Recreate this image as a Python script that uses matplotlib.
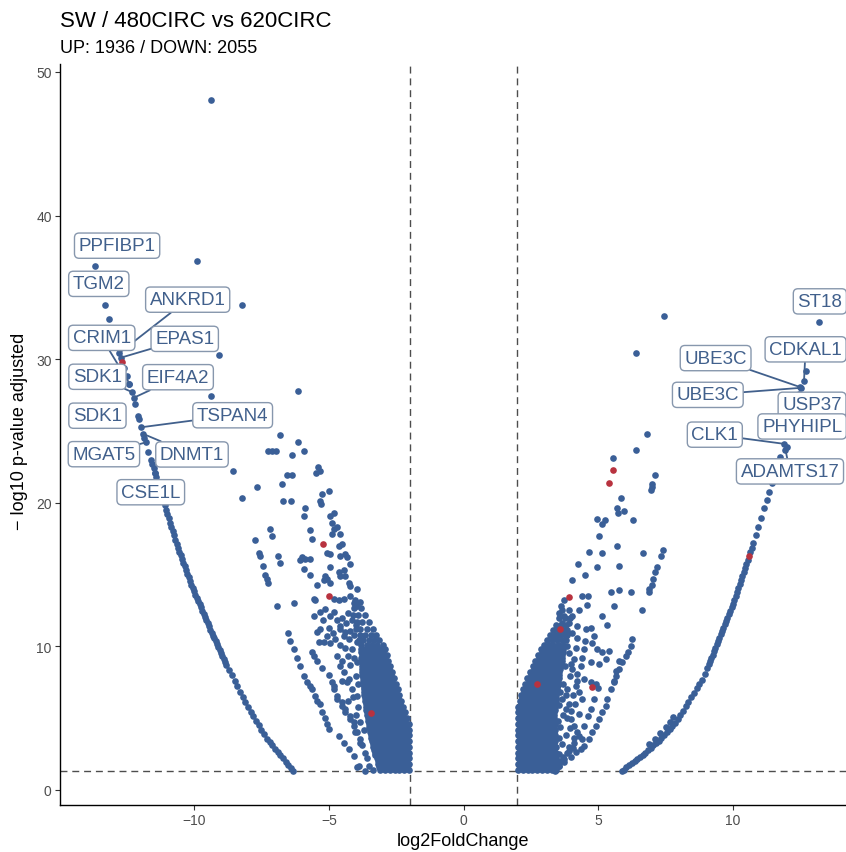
import matplotlib
matplotlib.use("Agg")
import matplotlib.pyplot as plt

plt.rcParams['font.family'] = ['Liberation Sans', 'DejaVu Sans']

# ---------------- data ----------------
title = "SW / 480CIRC vs 620CIRC"
subtitle = "UP: 1936 / DOWN: 2055"
lfc_cut = 2.0
padj_cut = 1.30          # -log10(0.05)

# the two long "arcs" of genes at the outer edges
left_arc = [(-6.32, 1.32), (-6.4, 1.5), (-6.5, 1.73), (-6.6, 1.96), (-6.7, 2.19), (-6.8, 2.42),
            (-6.9, 2.65), (-7.0, 2.88), (-7.1, 3.11), (-7.2, 3.34), (-7.3, 3.58), (-7.4, 3.89),
            (-7.5, 4.2), (-7.6, 4.51), (-7.7, 4.82), (-7.8, 5.13), (-7.9, 5.45), (-8.0, 5.76),
            (-8.1, 6.11), (-8.2, 6.48), (-8.3, 6.85), (-8.4, 7.23), (-8.5, 7.6), (-8.6, 7.97),
            (-8.7, 8.34), (-8.8, 8.72), (-8.85, 8.92), (-8.9, 9.13), (-8.95, 9.33), (-9.0, 9.53),
            (-9.05, 9.74), (-9.1, 9.94), (-9.15, 10.14), (-9.2, 10.35), (-9.25, 10.55), (-9.3, 10.75),
            (-9.35, 10.95), (-9.4, 11.16), (-9.45, 11.38), (-9.5, 11.6), (-9.55, 11.82), (-9.6, 12.04),
            (-9.65, 12.27), (-9.7, 12.49), (-9.75, 12.71), (-9.8, 12.93), (-9.85, 13.16), (-9.9, 13.38),
            (-9.95, 13.6), (-10.0, 13.82), (-10.05, 14.05), (-10.1, 14.3), (-10.15, 14.55), (-10.2, 14.81),
            (-10.25, 15.06), (-10.3, 15.32), (-10.35, 15.57), (-10.4, 15.83), (-10.45, 16.08), (-10.5, 16.34),
            (-10.55, 16.6), (-10.6, 16.85), (-10.65, 17.12), (-10.7, 17.42), (-10.75, 17.72), (-10.8, 18.02),
            (-10.85, 18.32), (-10.9, 18.62), (-10.95, 18.92), (-11.0, 19.22), (-11.05, 19.52), (-11.1, 19.83),
            (-11.15, 20.16), (-11.2, 20.48), (-11.25, 20.81), (-11.3, 21.13), (-11.35, 21.46), (-11.4, 21.78),
            (-11.45, 22.1), (-11.5, 22.39), (-11.55, 22.68), (-11.6, 22.97), (-11.7, 23.5), (-11.85, 24.5),
            (-12.05, 25.85), (-12.2, 26.9), (-12.4, 28.3), (-12.5, 28.85), (-12.6, 29.4), (-12.85, 30.95),
            (-13.0, 31.9), (-13.15, 32.8), (-13.5, 35.2)]

right_arc = [(5.88, 1.32), (5.95, 1.42), (6.05, 1.57), (6.15, 1.71), (6.25, 1.86), (6.35, 2.0),
             (6.45, 2.15), (6.55, 2.3), (6.65, 2.44), (6.75, 2.6), (6.85, 2.77), (6.95, 2.93),
             (7.05, 3.1), (7.15, 3.27), (7.25, 3.43), (7.35, 3.61), (7.45, 3.82), (7.55, 4.02),
             (7.65, 4.23), (7.75, 4.43), (7.85, 4.64), (7.95, 4.92), (8.05, 5.22), (8.15, 5.53),
             (8.25, 5.84), (8.35, 6.14), (8.45, 6.45), (8.55, 6.76), (8.65, 7.07), (8.75, 7.38),
             (8.85, 7.68), (8.95, 8.04), (9.05, 8.5), (9.1, 8.74), (9.15, 8.97), (9.2, 9.2),
             (9.25, 9.43), (9.3, 9.67), (9.35, 9.9), (9.4, 10.13), (9.45, 10.36), (9.5, 10.6),
             (9.55, 10.83), (9.6, 11.06), (9.65, 11.3), (9.7, 11.53), (9.75, 11.76), (9.8, 12.0),
             (9.85, 12.23), (9.9, 12.46), (9.95, 12.71), (10.0, 12.98), (10.05, 13.26), (10.1, 13.53),
             (10.15, 13.81), (10.2, 14.09), (10.25, 14.36), (10.3, 14.64), (10.35, 14.92), (10.4, 15.19),
             (10.45, 15.47), (10.5, 15.75), (10.55, 16.02), (10.65, 16.59), (10.7, 16.88), (10.75, 17.16),
             (10.85, 17.74), (10.95, 18.33), (11.05, 18.96), (11.15, 19.6), (11.25, 20.18), (11.35, 20.75),
             (11.45, 21.35), (11.6, 22.2), (11.75, 23.2), (12.05, 25.0), (12.2, 26.0), (12.35, 26.95),
             (12.7, 29.2), (12.9, 30.6),
             # short parallel branch near the bottom
             (6.9, 3.2), (7.1, 3.55), (7.3, 3.95), (7.5, 4.35), (7.65, 4.7), (7.78, 5.05)]

# scattered genes (down-regulated side)
left_scatter = [(-9.37, 48.05), (-9.89, 36.8), (-8.22, 33.8), (-9.07, 30.3), (-9.37, 27.4), (-6.13, 27.8),
                (-6.83, 24.7), (-6.15, 24.2), (-7.27, 23.6), (-7.11, 23.6), (-6.95, 23.6), (-6.37, 23.3),
                (-5.94, 23.6), (-8.54, 22.2), (-5.42, 22.5), (-5.34, 22.2), (-5.46, 22.1), (-6.55, 21.9),
                (-6.37, 21.9), (-6.74, 21.3), (-7.67, 21.1), (-8.23, 20.3), (-6.7, 20.1), (-6.41, 20.1),
                (-5.25, 20.6), (-5.0, 20.8), (-5.34, 20.1), (-5.29, 19.9), (-5.87, 19.6), (-5.94, 19.1),
                (-4.94, 19.1), (-4.82, 19.3), (-4.88, 18.6), (-7.17, 18.2), (-7.11, 17.7), (-5.69, 18.1),
                (-5.62, 17.5), (-4.82, 18.2), (-4.7, 18.3), (-4.88, 17.8), (-4.57, 17.8), (-7.73, 17.4),
                (-4.64, 17.0), (-4.51, 17.1), (-7.61, 16.5), (-7.55, 16.3), (-5.07, 16.5), (-4.94, 16.4),
                (-4.57, 16.3), (-4.39, 16.4), (-4.32, 16.2), (-6.87, 16.3), (-6.8, 15.8), (-6.0, 16.2),
                (-5.87, 16.1), (-5.69, 16.1), (-6.06, 16.0), (-4.2, 15.7), (-7.45, 15.6), (-4.94, 15.5),
                (-4.64, 15.2), (-4.45, 15.3), (-4.57, 14.9), (-4.39, 14.9), (-5.94, 15.4), (-5.69, 15.0),
                (-7.36, 15.0), (-7.3, 14.7), (-7.24, 14.4), (-5.13, 14.9), (-5.07, 14.7), (-5.19, 14.6),
                (-4.94, 14.4), (-4.26, 14.4), (-4.2, 14.2), (-3.95, 14.0), (-5.44, 14.3), (-5.56, 13.3),
                (-4.82, 13.3), (-4.64, 13.2), (-4.45, 13.3), (-4.2, 13.5), (-4.01, 13.2), (-3.83, 13.1),
                (-4.08, 13.0), (-3.95, 12.8), (-6.93, 12.8), (-6.31, 13.0), (-5.5, 13.2),
                (-5.56, 12.1), (-5.32, 12.4), (-5.13, 12.6), (-4.94, 12.1), (-5.44, 11.0), (-5.32, 11.2),
                (-5.07, 10.7), (-5.38, 10.3), (-4.82, 12.4), (-4.7, 11.8), (-4.57, 11.2), (-4.45, 10.7),
                (-4.76, 10.5), (-4.57, 11.4), (-4.39, 11.0), (-4.26, 10.5), (-5.19, 10.3), (-4.94, 10.2),
                (-4.7, 9.35),
                (-6.53, 10.9), (-6.43, 10.4), (-6.31, 9.8), (-6.18, 9.2), (-6.06, 8.66), (-5.94, 7.96),
                (-5.8, 7.5), (-5.69, 7.26), (-5.62, 7.03), (-5.5, 6.57), (-5.44, 6.2), (-5.32, 5.99),
                (-5.25, 5.4), (-5.13, 5.0), (-5.05, 4.6), (-5.0, 4.25),
                (-5.62, 9.6), (-5.56, 9.35), (-5.44, 8.95), (-5.25, 8.5), (-5.0, 8.0), (-4.9, 7.5),
                (-4.82, 7.26), (-4.57, 8.66), (-4.45, 8.18), (-4.32, 7.5), (-4.14, 7.0), (-3.95, 6.57),
                (-4.82, 7.0), (-4.7, 6.57), (-4.51, 6.1), (-4.39, 5.64), (-4.2, 5.17), (-4.08, 4.7),
                (-4.01, 4.0), (-3.83, 3.3), (-3.64, 2.6), (-3.95, 1.58), (-4.7, 6.34), (-4.51, 5.87),
                (-4.39, 5.41), (-4.2, 4.94), (-4.08, 4.47), (-3.95, 4.0), (-3.83, 3.55),
                (-4.64, 3.78), (-4.45, 3.3), (-4.26, 2.85), (-4.08, 2.39), (-3.89, 1.69), (-3.64, 1.3),
                (-4.3, 12.3), (-4.5, 12.0), (-4.15, 11.8), (-4.35, 11.6), (-4.0, 11.5), (-4.2, 11.1),
                (-4.05, 10.8), (-4.6, 10.1), (-4.4, 9.9), (-4.15, 9.8), (-3.95, 10.3), (-4.3, 9.3),
                (-4.05, 9.2), (-4.5, 9.0), (-4.2, 8.7), (-3.95, 8.9), (-4.0, 7.9), (-4.25, 7.7),
                (-4.5, 7.6), (-3.9, 7.4), (-4.1, 6.5), (-4.3, 6.2), (-3.9, 5.8), (-4.0, 5.2),
                (-3.85, 4.7), (-3.7, 4.2), (-3.75, 3.1), (-3.6, 2.2), (-3.5, 1.7), (-3.35, 1.4),
                (-5.2, 11.8), (-5.0, 11.3), (-4.85, 10.9)]

# scattered genes (up-regulated side)
right_scatter = [(7.45, 33.0), (6.39, 30.4), (6.8, 24.8), (6.41, 23.7), (5.55, 23.1), (7.11, 21.9),
                 (7.01, 21.3), (6.98, 21.1), (6.95, 20.9), (5.85, 20.3), (5.71, 19.6), (5.75, 19.3),
                 (5.94, 19.4), (4.94, 18.9), (5.25, 18.8), (5.16, 18.5), (6.31, 18.8), (5.03, 17.7),
                 (5.71, 17.0), (4.66, 16.6), (5.16, 16.5), (6.67, 16.5), (7.41, 16.7), (7.32, 16.3),
                 (4.25, 15.7), (4.97, 15.5), (5.78, 15.6), (7.2, 15.5), (7.11, 15.2), (7.04, 14.7),
                 (6.99, 14.3), (4.51, 15.0), (4.04, 14.6), (6.89, 14.0), (6.87, 13.8), (3.73, 13.2),
                 (3.61, 12.8), (4.41, 13.5), (4.63, 13.5), (5.46, 13.8), (5.78, 13.9), (6.23, 13.8),
                 (4.6, 12.9), (5.59, 12.8), (3.54, 12.3), (3.73, 12.1), (4.04, 12.1), (5.16, 12.1),
                 (5.34, 11.5), (3.42, 10.7), (3.79, 11.0), (4.04, 10.9), (4.23, 10.6), (4.54, 11.2),
                 (4.72, 11.3), (4.84, 10.7), (3.54, 10.0), (3.85, 10.0), (4.16, 9.9), (4.47, 9.8),
                 (4.78, 10.2), (4.97, 9.8), (5.16, 9.6), (5.4, 9.7), (4.1, 9.1), (4.41, 9.2),
                 (4.72, 8.9), (5.03, 8.8), (5.28, 9.1), (5.78, 9.0), (5.65, 8.3), (5.59, 7.6),
                 (4.04, 8.4), (4.23, 8.1), (4.47, 7.7), (4.72, 7.5), (4.91, 7.4), (4.16, 7.25),
                 (4.29, 6.8), (4.41, 6.34), (6.64, 12.5),
                 (6.27, 10.5), (6.21, 10.0), (6.1, 9.6), (6.02, 9.35), (5.9, 8.9), (5.78, 8.4),
                 (5.65, 7.96), (5.59, 7.5), (5.46, 7.03), (5.34, 6.34), (5.28, 5.87), (5.16, 5.41),
                 (5.03, 4.94), (4.91, 4.47), (4.78, 4.0), (4.66, 3.55), (4.47, 3.09), (4.35, 2.85),
                 (4.16, 2.62), (3.98, 2.27), (3.73, 1.92), (3.54, 1.69),
                 (4.98, 7.07), (4.86, 6.34), (4.73, 5.64), (4.61, 5.17), (4.48, 4.47), (4.3, 3.78),
                 (4.11, 3.3), (3.93, 2.74), (3.74, 2.16), (3.55, 1.69), (3.4, 1.34),
                 (3.67, 6.34), (3.79, 5.64), (3.98, 4.94), (4.1, 4.47), (4.23, 4.0), (4.41, 3.55),
                 (3.5, 8.0), (3.7, 7.4), (3.85, 7.0), (3.6, 6.8), (3.9, 6.0), (4.0, 5.5), (3.7, 5.2),
                 (3.6, 4.4), (3.8, 3.8), (3.65, 3.2), (3.9, 3.0), (3.55, 2.5), (3.7, 2.3),
                 (3.9, 9.5), (4.0, 8.8), (3.75, 8.6), (3.95, 7.9), (4.2, 7.6), (3.8, 6.6),
                 (4.15, 6.0), (4.05, 6.6), (3.55, 5.9), (3.85, 5.0), (4.3, 5.3), (3.5, 4.8),
                 (3.95, 4.3), (3.55, 3.6), (4.1, 3.6), (3.85, 2.6), (4.05, 2.9), (3.6, 2.0),
                 (3.45, 6.3), (3.5, 7.3), (3.65, 9.0), (3.9, 11.6), (4.3, 12.5), (4.2, 11.4),
                 (3.65, 11.6), (4.5, 10.4), (4.35, 8.6)]

# crowded rows just outside the fold-change cut (one list of x per row)
left_dense_y = [1.4, 1.6, 1.8, 2.0, 2.2, 2.4, 2.6, 2.8, 3.0, 3.2, 3.4, 3.6, 3.8, 4.0, 4.2, 4.4,
                4.6, 4.8, 5.0, 5.2, 5.4, 5.6, 5.8, 6.0, 6.2, 6.4, 6.6, 6.8, 7.0, 7.2, 7.4, 7.6,
                7.8, 8.0, 8.2, 8.4, 8.6, 8.8, 9.0, 9.2, 9.4, 9.6, 9.8, 10.1, 10.45, 10.8, 11.2,
                11.7, 12.2, 12.7]
left_dense_x = [[-2.02, -2.2, -2.38, -2.56, -2.74, -2.92, -3.1],
                [-2.11, -2.29, -2.47, -2.65, -2.83, -3.01, -3.13],
                [-2.02, -2.2, -2.38, -2.56, -2.74, -2.92, -3.1, -3.16],
                [-2.11, -2.29, -2.47, -2.65, -2.83, -3.01, -3.19],
                [-2.02, -2.2, -2.38, -2.56, -2.74, -2.92, -3.1, -3.22],
                [-2.11, -2.29, -2.47, -2.65, -2.83, -3.01, -3.19, -3.27],
                [-2.02, -2.2, -2.38, -2.56, -2.74, -2.92, -3.1, -3.28],
                [-2.11, -2.29, -2.47, -2.65, -2.83, -3.01, -3.19, -3.32],
                [-2.02, -2.2, -2.38, -2.56, -2.74, -2.92, -3.1, -3.28, -3.35],
                [-2.11, -2.29, -2.47, -2.65, -2.83, -3.01, -3.19, -3.37],
                [-2.02, -2.2, -2.38, -2.56, -2.74, -2.92, -3.1, -3.28, -3.4],
                [-2.11, -2.29, -2.47, -2.65, -2.83, -3.01, -3.19, -3.37, -3.43],
                [-2.02, -2.2, -2.38, -2.56, -2.74, -2.92, -3.1, -3.28, -3.45],
                [-2.11, -2.29, -2.47, -2.65, -2.83, -3.01, -3.19, -3.37, -3.47],
                [-2.02, -2.2, -2.38, -2.56, -2.74, -2.92, -3.1, -3.28, -3.46],
                [-2.11, -2.29, -2.47, -2.65, -2.83, -3.01, -3.19, -3.37, -3.5],
                [-2.04, -2.22, -2.4, -2.58, -2.76, -2.94, -3.12, -3.3, -3.48, -3.52],
                [-2.16, -2.34, -2.52, -2.7, -2.88, -3.06, -3.24, -3.42, -3.54],
                [-2.1, -2.28, -2.46, -2.64, -2.82, -3.0, -3.18, -3.36, -3.54],
                [-2.23, -2.41, -2.59, -2.77, -2.95, -3.13, -3.31, -3.49, -3.57],
                [-2.17, -2.35, -2.53, -2.71, -2.89, -3.07, -3.25, -3.43, -3.59],
                [-2.3, -2.48, -2.66, -2.84, -3.02, -3.2, -3.38, -3.56, -3.61],
                [-2.24, -2.42, -2.6, -2.78, -2.96, -3.14, -3.32, -3.5, -3.62],
                [-2.37, -2.55, -2.73, -2.91, -3.09, -3.27, -3.45, -3.63],
                [-2.31, -2.49, -2.67, -2.85, -3.03, -3.21, -3.39, -3.57, -3.65],
                [-2.43, -2.61, -2.79, -2.97, -3.15, -3.33, -3.51, -3.66],
                [-2.38, -2.56, -2.74, -2.92, -3.1, -3.28, -3.46, -3.64, -3.68],
                [-2.5, -2.68, -2.86, -3.04, -3.22, -3.4, -3.58, -3.69],
                [-2.45, -2.63, -2.81, -2.99, -3.17, -3.35, -3.53, -3.7],
                [-2.57, -2.75, -2.93, -3.11, -3.29, -3.47, -3.65, -3.71],
                [-2.51, -2.69, -2.87, -3.05, -3.23, -3.41, -3.59, -3.72],
                [-2.64, -2.82, -3.0, -3.18, -3.36, -3.54, -3.72],
                [-2.58, -2.76, -2.94, -3.12, -3.3, -3.48, -3.66, -3.74],
                [-2.71, -2.89, -3.07, -3.25, -3.43, -3.61, -3.75],
                [-2.65, -2.83, -3.01, -3.19, -3.37, -3.55, -3.73, -3.76],
                [-2.77, -2.95, -3.13, -3.31, -3.49, -3.67, -3.77],
                [-2.72, -2.9, -3.08, -3.26, -3.44, -3.62, -3.78],
                [-2.84, -3.02, -3.2, -3.38, -3.56, -3.74],
                [-2.79, -2.97, -3.15, -3.33, -3.51, -3.69, -3.78],
                [-2.91, -3.09, -3.27, -3.45, -3.63, -3.79],
                [-2.85, -3.03, -3.21, -3.39, -3.57, -3.75],
                [-2.98, -3.16, -3.34, -3.52, -3.7, -3.8],
                [-2.92, -3.1, -3.28, -3.46, -3.64, -3.8],
                [-3.0, -3.2, -3.4, -3.6, -3.8],
                [-3.12, -3.32, -3.52, -3.72, -3.88],
                [-3.25, -3.45, -3.65, -3.85],
                [-3.35, -3.6, -3.85, -4.0],
                [-3.5, -3.75, -3.95],
                [-3.65, -3.9, -4.1],
                [-3.8, -4.05]]

right_dense_y = [1.4, 1.6, 1.8, 2.0, 2.2, 2.4, 2.6, 2.8, 3.0, 3.2, 3.4, 3.6, 3.8, 4.0, 4.2, 4.4,
                 4.6, 4.8, 5.0, 5.2, 5.4, 5.6, 5.8, 6.0, 6.2, 6.4, 6.6, 6.8, 7.0, 7.2, 7.4, 7.6,
                 7.8, 8.0, 8.2, 8.4, 8.6, 8.8, 9.0, 9.2, 9.4, 9.6, 9.8, 10.1, 10.45, 10.8, 11.15,
                 11.5, 12.0, 12.5]
right_dense_x = [[2.02, 2.2, 2.38, 2.56, 2.74, 2.92, 3.1, 3.28, 3.42],
                 [2.11, 2.29, 2.47, 2.65, 2.83, 3.01, 3.19, 3.37],
                 [2.02, 2.2, 2.38, 2.56, 2.74, 2.92, 3.1, 3.28, 3.42],
                 [2.11, 2.29, 2.47, 2.65, 2.83, 3.01, 3.19, 3.37],
                 [2.02, 2.2, 2.38, 2.56, 2.74, 2.92, 3.1, 3.28, 3.44],
                 [2.11, 2.29, 2.47, 2.65, 2.83, 3.01, 3.19, 3.37],
                 [2.02, 2.2, 2.38, 2.56, 2.74, 2.92, 3.1, 3.28, 3.42],
                 [2.11, 2.29, 2.47, 2.65, 2.83, 3.01, 3.19, 3.37],
                 [2.02, 2.2, 2.38, 2.56, 2.74, 2.92, 3.1, 3.28, 3.42],
                 [2.11, 2.29, 2.47, 2.65, 2.83, 3.01, 3.19, 3.37],
                 [2.02, 2.2, 2.38, 2.56, 2.74, 2.92, 3.1, 3.28, 3.41],
                 [2.11, 2.29, 2.47, 2.65, 2.83, 3.01, 3.19, 3.37],
                 [2.02, 2.2, 2.38, 2.56, 2.74, 2.92, 3.1, 3.28, 3.4],
                 [2.11, 2.29, 2.47, 2.65, 2.83, 3.01, 3.19, 3.37],
                 [2.02, 2.2, 2.38, 2.56, 2.74, 2.92, 3.1, 3.28, 3.38],
                 [2.11, 2.29, 2.47, 2.65, 2.83, 3.01, 3.19, 3.37],
                 [2.02, 2.2, 2.38, 2.56, 2.74, 2.92, 3.1, 3.28, 3.38],
                 [2.11, 2.29, 2.47, 2.65, 2.83, 3.01, 3.19, 3.36],
                 [2.02, 2.2, 2.38, 2.56, 2.74, 2.92, 3.1, 3.28, 3.36],
                 [2.11, 2.29, 2.47, 2.65, 2.83, 3.01, 3.19, 3.36],
                 [2.02, 2.2, 2.38, 2.56, 2.74, 2.92, 3.1, 3.28, 3.37],
                 [2.11, 2.29, 2.47, 2.65, 2.83, 3.01, 3.19, 3.38],
                 [2.04, 2.22, 2.4, 2.58, 2.76, 2.94, 3.12, 3.3, 3.4],
                 [2.15, 2.33, 2.51, 2.69, 2.87, 3.05, 3.23, 3.41],
                 [2.08, 2.26, 2.44, 2.62, 2.8, 2.98, 3.16, 3.34, 3.42],
                 [2.19, 2.37, 2.55, 2.73, 2.91, 3.09, 3.27, 3.42],
                 [2.12, 2.3, 2.48, 2.66, 2.84, 3.02, 3.2, 3.38, 3.44],
                 [2.25, 2.43, 2.61, 2.79, 2.97, 3.15, 3.33, 3.46],
                 [2.2, 2.38, 2.56, 2.74, 2.92, 3.1, 3.28, 3.46],
                 [2.33, 2.51, 2.69, 2.87, 3.05, 3.23, 3.41, 3.48],
                 [2.28, 2.46, 2.64, 2.82, 3.0, 3.18, 3.36, 3.5],
                 [2.42, 2.6, 2.78, 2.96, 3.14, 3.32, 3.5],
                 [2.37, 2.55, 2.73, 2.91, 3.09, 3.27, 3.45, 3.53],
                 [2.51, 2.69, 2.87, 3.05, 3.23, 3.41, 3.55],
                 [2.47, 2.65, 2.83, 3.01, 3.19, 3.37, 3.55],
                 [2.61, 2.79, 2.97, 3.15, 3.33, 3.51, 3.58],
                 [2.57, 2.75, 2.93, 3.11, 3.29, 3.47, 3.6],
                 [2.71, 2.89, 3.07, 3.25, 3.43, 3.61],
                 [2.67, 2.85, 3.03, 3.21, 3.39, 3.57, 3.63],
                 [2.81, 2.99, 3.17, 3.35, 3.53, 3.65],
                 [2.77, 2.95, 3.13, 3.31, 3.49, 3.66],
                 [2.92, 3.1, 3.28, 3.46, 3.64, 3.68],
                 [2.89, 3.07, 3.25, 3.43, 3.61, 3.7],
                 [2.98, 3.16, 3.34, 3.52, 3.7],
                 [3.1, 3.28, 3.46, 3.64, 3.8],
                 [3.22, 3.4, 3.58, 3.76, 3.84],
                 [3.32, 3.5, 3.68, 3.86],
                 [3.42, 3.62, 3.82],
                 [3.55, 3.75, 3.95],
                 [3.65, 3.9]]

# highlighted (red) genes
red_x = [-12.67, -5.22, -4.98, -3.42, 5.54, 5.4, 3.92, 3.58, 4.76, 2.74, 10.6]
red_y = [29.8, 17.1, 13.5, 5.35, 22.3, 21.4, 13.4, 11.2, 7.2, 7.4, 16.3]

# labelled genes: point, label centre, and whether a segment shows
label_names = ["PPFIBP1", "TGM2", "ANKRD1", "CRIM1", "EPAS1", "SDK1", "EIF4A2", "SDK1",
               "TSPAN4", "MGAT5", "DNMT1", "CSE1L",
               "ST18", "UBE3C", "CDKAL1", "UBE3C", "USP37", "PHYHIPL", "CLK1", "ADAMTS17"]
label_px = [-13.68, -13.31, -12.8, -12.4, -12.72, -12.3, -12.25, -12.1, -11.98, -11.8, -11.9, -11.45,
            13.2, 12.5, 12.64, 12.53, 12.45, 12.0, 11.9, 11.95]
label_py = [36.5, 33.8, 30.4, 28.3, 30.1, 27.7, 27.3, 26.05, 25.25, 24.2, 24.8, 22.1,
            32.6, 28.05, 28.45, 28.0, 27.6, 23.9, 24.1, 23.7]
label_tx = [-12.86, -13.54, -10.24, -13.43, -10.35, -13.59, -10.6, -13.59, -8.57, -13.35, -10.08, -11.61,
            13.23, 9.36, 12.7, 9.07, 12.94, 12.57, 9.33, 12.12]
label_ty = [37.9, 35.24, 34.14, 31.48, 31.41, 28.77, 28.74, 26.06, 26.09, 23.38, 23.36, 20.73,
            34.02, 30.07, 30.68, 27.51, 26.82, 25.31, 24.74, 22.18]
label_seg = [False, False, True, True, True, True, True, False, True, True, True, False,
             False, True, True, True, False, False, True, True]

# ---------------- drawing ----------------
blue = "#3a5f97"
red = "#b8323f"
lab_col = "#41608c"
box_col = "#8797ad"

fig = plt.figure(figsize=(8.46, 8.53), dpi=100)
ax = fig.add_axes([60 / 846, 47 / 853, 786 / 846, 741 / 853])

ax.axvline(-lfc_cut, color="#4d4d4d", lw=1.0, ls=(0, (5, 3.5)), zorder=1)
ax.axvline(lfc_cut, color="#4d4d4d", lw=1.0, ls=(0, (5, 3.5)), zorder=1)
ax.axhline(padj_cut, color="#4d4d4d", lw=1.0, ls=(0, (5, 3.5)), zorder=1)

xs, ys = [], []
for pts in (left_arc, right_arc, left_scatter, right_scatter):
    xs += [p[0] for p in pts]
    ys += [p[1] for p in pts]
for yv, row in zip(left_dense_y, left_dense_x):
    xs += row
    ys += [yv] * len(row)
for yv, row in zip(right_dense_y, right_dense_x):
    xs += row
    ys += [yv] * len(row)
xs += label_px
ys += label_py

ax.scatter(xs, ys, s=23, c=blue, linewidths=0, zorder=2)
ax.scatter(red_x, red_y, s=23, c=red, linewidths=0, zorder=3)

for name, px, py, tx, ty, seg in zip(label_names, label_px, label_py, label_tx, label_ty, label_seg):
    arrow = dict(arrowstyle='-', color=lab_col, lw=1.3, shrinkA=0, shrinkB=1) if seg else None
    ax.annotate(name, xy=(px, py), xytext=(tx, ty), ha='center', va='center',
                fontsize=13.5, color=lab_col, zorder=5,
                bbox=dict(boxstyle='round,pad=0.22,rounding_size=0.25', fc='white', ec=box_col, lw=1.0),
                arrowprops=arrow)

ax.set_xlim(-14.98, 14.2)
ax.set_ylim(-1.05, 50.55)
ax.set_xticks([-10, -5, 0, 5, 10])
ax.set_yticks([0, 10, 20, 30, 40, 50])
ax.spines['top'].set_visible(False)
ax.spines['right'].set_visible(False)
ax.spines['left'].set_linewidth(1.0)
ax.spines['bottom'].set_linewidth(1.0)
ax.tick_params(direction='out', length=3.5, width=0.8, color='#333333',
               labelcolor='#4d4d4d', labelsize=10, pad=2.5)

fig.text(60 / 846, 1 - 26.7 / 853, title, fontsize=16, va='baseline', ha='left')
fig.text(60 / 846, 1 - 53.3 / 853, subtitle, fontsize=13, va='baseline', ha='left')
fig.text(463 / 846, 1 - 846 / 853, "log2FoldChange", fontsize=13, va='baseline', ha='center')
fig.text(20 / 846, 1 - 431 / 853, "\u2212 log10 p-value adjusted", fontsize=13,
         va='center', ha='center', rotation=90)

fig.savefig("out.png", dpi=100)
